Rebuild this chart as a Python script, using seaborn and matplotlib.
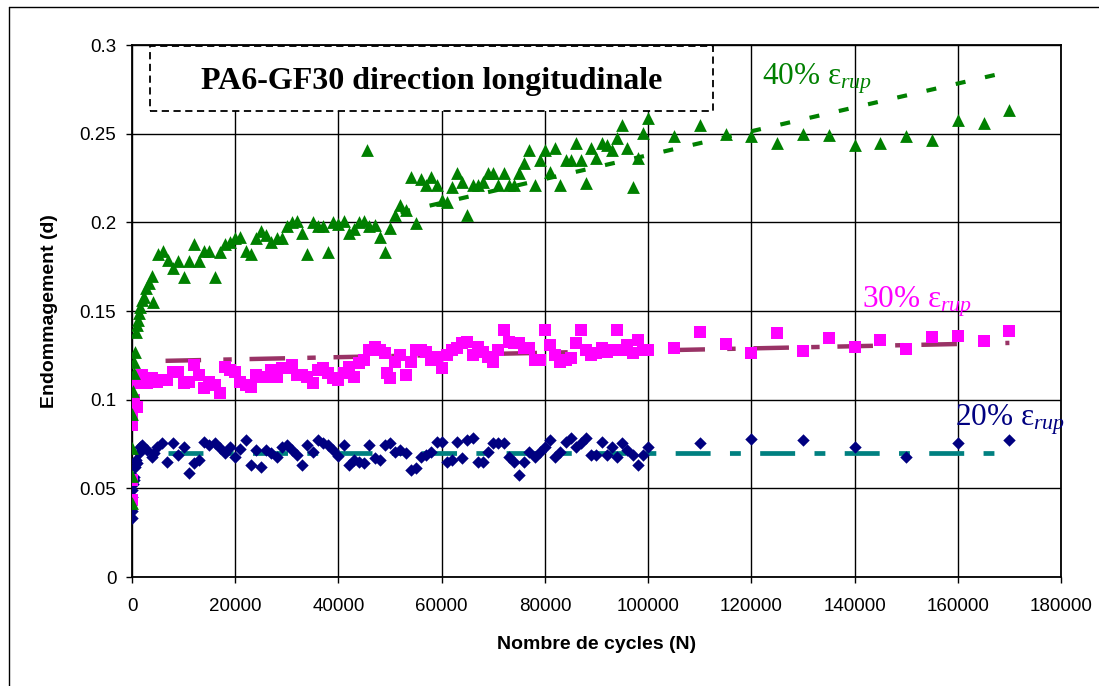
import matplotlib
matplotlib.use("Agg")
import matplotlib.pyplot as plt
import seaborn as sns
import pandas as pd
from matplotlib.patches import Rectangle
from matplotlib.lines import Line2D

# ---- data ----
# 40 % eps_rup (green triangles)
n40 = [0, 0, 0, 0, 100, 300, 400, 500, 700, 900, 1100, 1300, 1600, 2000, 2300, 2700, 3200, 3800, 4000,
       5000, 6000, 7000, 8000, 9000, 10000, 11000, 12000, 13000, 14000, 15000, 16000, 17000, 18000, 19000,
       20000, 21000, 22000, 23000, 24000, 25000, 26000, 27000, 28000, 29000, 30000, 31000, 32000, 33000,
       34000, 35000, 36000, 37000, 38000, 39000, 40000, 41000, 42000, 43000, 44000, 45000, 45500, 46000,
       47000, 48000, 49000, 50000, 51000, 52000, 53000, 54000, 55000, 56000, 57000, 58000, 59000, 60000,
       61000, 62000, 63000, 64000, 65000, 66000, 67000, 68000, 69000, 70000, 71000, 72000, 73000, 74000,
       75000, 76000, 77000, 78000, 79000, 80000, 81000, 82000, 83000, 84000, 85000, 86000, 87000, 88000,
       89000, 90000, 91000, 92000, 93000, 94000, 95000, 96000, 97000, 98000, 99000, 100000,
       105000, 110000, 115000, 120000, 125000, 130000, 135000, 140000, 145000, 150000, 155000, 160000,
       165000, 170000]
d40 = [0.042, 0.057, 0.073, 0.092, 0.105, 0.115, 0.121, 0.127, 0.138, 0.142, 0.145, 0.149, 0.152, 0.156,
       0.158, 0.163, 0.166, 0.170, 0.155,
       0.182, 0.184, 0.179, 0.174, 0.178, 0.169, 0.178, 0.188, 0.178, 0.184, 0.184, 0.169, 0.183, 0.188,
       0.189, 0.191, 0.192, 0.184, 0.182, 0.191, 0.195, 0.193, 0.189, 0.191, 0.191, 0.198, 0.200, 0.201,
       0.194, 0.182, 0.200, 0.198, 0.198, 0.183, 0.200, 0.199, 0.201, 0.194, 0.196, 0.200, 0.201, 0.241,
       0.198, 0.1985, 0.192, 0.183, 0.197, 0.204, 0.210, 0.207, 0.2255, 0.1998, 0.2245, 0.221, 0.2255,
       0.221, 0.2126, 0.2117, 0.2201, 0.2277, 0.223, 0.2042, 0.2211, 0.2211, 0.223, 0.2277, 0.2277, 0.2211,
       0.2277, 0.2211, 0.2211, 0.2277, 0.2333, 0.2408, 0.2211, 0.235, 0.2408, 0.2286, 0.2418, 0.2211,
       0.235, 0.235, 0.2446, 0.235, 0.222, 0.2418, 0.236, 0.2446, 0.2437, 0.2408, 0.2474, 0.255, 0.2418,
       0.2198, 0.236, 0.2503, 0.2587,
       0.2487, 0.255, 0.2499, 0.2487, 0.2447, 0.2499, 0.2493, 0.2437, 0.2447, 0.2487, 0.2465, 0.2577,
       0.2562, 0.2634]

# 30 % eps_rup (magenta squares)
n30 = [0, 0, 0, 0, 200, 300, 500, 800, 1000, 1200,
       1900, 2900, 3800, 4800, 5800, 6700, 8000, 9000, 10000, 11000, 12000, 13000, 14000, 15000, 16000,
       17000, 18000, 19000, 20000, 21000, 22000, 23000, 24000, 25000, 26000, 27000, 28000, 29000, 30000,
       31000, 32000, 33000, 34000, 35000, 36000, 37000, 38000, 39000, 40000, 41000, 42000, 43000, 44000,
       45000, 46000, 47000, 48000, 49000, 49500, 50000, 51000, 52000, 53000, 54000, 55000, 56000, 57000,
       58000, 59000, 60000, 61000, 62000, 63000, 64000, 65000, 66000, 67000, 68000, 69000, 70000, 71000,
       72000, 73000, 74000, 75000, 76000, 77000, 78000, 79000, 80000, 81000, 82000, 83000, 84000, 85000,
       86000, 87000, 88000, 89000, 90000, 91000, 92000, 93000, 94000, 95000, 96000, 97000, 98000, 99000,
       100000, 105000, 110000, 115000, 120000, 125000, 130000, 135000, 140000, 145000, 150000, 155000,
       160000, 165000, 170000]
d30 = [0.0434, 0.0545, 0.0857, 0.0923, 0.0989, 0.0998, 0.1111, 0.1092, 0.0960, 0.1102,
       0.1139, 0.1092, 0.112, 0.1102, 0.1111, 0.1111, 0.1158, 0.1158, 0.1092, 0.1102, 0.1196, 0.1139,
       0.1064, 0.1102, 0.1083, 0.104, 0.1186, 0.1167, 0.1158, 0.1102, 0.1083, 0.1073, 0.1139, 0.113,
       0.113, 0.1167, 0.113, 0.1177, 0.1177, 0.1196, 0.1139, 0.1139, 0.113, 0.1092, 0.1167, 0.1177,
       0.1149, 0.112, 0.1111, 0.1149, 0.1186, 0.113, 0.1205, 0.1224, 0.128, 0.1299, 0.128, 0.1262,
       0.1149, 0.112, 0.1214, 0.1252, 0.1139, 0.1214, 0.128, 0.128, 0.1271, 0.1224, 0.1243, 0.1177,
       0.1252, 0.128, 0.129, 0.1318, 0.1327, 0.1252, 0.1299, 0.1271, 0.1243, 0.1214, 0.128, 0.1393,
       0.1327, 0.1318, 0.1318, 0.129, 0.129, 0.1224, 0.1224, 0.1393, 0.1308, 0.1252, 0.1214, 0.1224,
       0.1233, 0.1318, 0.1393, 0.128, 0.1252, 0.1262, 0.129, 0.1271, 0.128, 0.1393, 0.128, 0.1308,
       0.1262, 0.1337, 0.128, 0.128, 0.129, 0.1384, 0.1313, 0.1265, 0.1378, 0.1275, 0.135, 0.1296,
       0.1337, 0.1288, 0.1352, 0.136, 0.1333, 0.1389]

# 20 % eps_rup (navy diamonds)
n20 = [0, 0, 0, 0, 200, 300, 400, 600, 800, 1000, 1300, 1600,
       1900, 2900, 3800, 4300, 4800, 5800, 6700, 8000, 9000, 10000, 11000, 12000, 13000, 14000, 15000,
       16000, 17000, 18000, 19000, 20000, 21000, 22000, 23000, 24000, 25000, 26000, 27000, 28000, 29000,
       30000, 31000, 32000, 33000, 34000, 35000, 36000, 37000, 38000, 39000, 40000, 41000, 42000, 43000,
       44000, 45000, 46000, 47000, 48000, 49000, 50000, 51000, 52000, 53000, 54000, 55000, 56000, 57000,
       58000, 59000, 60000, 61000, 62000, 63000, 64000, 65000, 66000, 67000, 68000, 69000, 70000, 71000,
       72000, 73000, 74000, 75000, 76000, 77000, 78000, 79000, 80000, 81000, 82000, 83000, 84000, 85000,
       86000, 87000, 88000, 89000, 90000, 91000, 92000, 93000, 94000, 95000, 96000, 97000, 98000, 99000,
       100000, 110000, 120000, 130000, 140000, 150000, 160000, 170000]
d20 = [0.0331, 0.0374, 0.0449, 0.0493, 0.0524, 0.0545, 0.0566, 0.0622, 0.066, 0.0641, 0.0698, 0.0735,
       0.0745, 0.0716, 0.0679, 0.0698, 0.0735, 0.0754, 0.065, 0.0758, 0.0688, 0.0731, 0.0585, 0.0641,
       0.066, 0.0763, 0.0745, 0.0754, 0.0726, 0.0698, 0.0735, 0.0679, 0.072, 0.0773, 0.0632, 0.0716,
       0.0622, 0.0716, 0.0698, 0.0679, 0.0735, 0.0745, 0.0716, 0.0688, 0.0632, 0.0745, 0.0707, 0.0773,
       0.0754, 0.0745, 0.0716, 0.0682, 0.0745, 0.0632, 0.066, 0.065, 0.0641, 0.0745, 0.0669, 0.066,
       0.0745, 0.0758, 0.0707, 0.0716, 0.0698, 0.0603, 0.0613, 0.0679, 0.0688, 0.0707, 0.0763, 0.0763,
       0.065, 0.066, 0.0763, 0.0669, 0.0773, 0.0782, 0.065, 0.065, 0.0707, 0.0754, 0.0754, 0.0754,
       0.0679, 0.065, 0.0575, 0.065, 0.0707, 0.0679, 0.0707, 0.0735, 0.0773, 0.0679, 0.0707, 0.0763,
       0.0782, 0.0735, 0.0754, 0.0782, 0.0688, 0.0688, 0.0763, 0.0688, 0.0735, 0.0679, 0.0754, 0.0716,
       0.0688, 0.0632, 0.0688, 0.0735, 0.0758, 0.0777, 0.0773, 0.0732, 0.0679, 0.0758, 0.0773]

# trend lines (end points)
trend40_n = [52000, 170000]
trend40_d = [0.2056, 0.2850]
trend30_n = [6500, 170000]
trend30_d = [0.1219, 0.1320]
trend20_n = [7000, 170000]
trend20_d = [0.0697, 0.0697]

xticks = [0, 20000, 40000, 60000, 80000, 100000, 120000, 140000, 160000, 180000]
xtick_labels = ['0', '20000', '40000', '60000', '80000', '100000', '120000', '140000', '160000', '180000']
yticks = [0, 0.05, 0.1, 0.15, 0.2, 0.25, 0.3]
ytick_labels = ['0', '0.05', '0.1', '0.15', '0.2', '0.25', '0.3']

# ---- style ----
sns.set_style('ticks')
plt.rcParams['font.family'] = ['Liberation Sans', 'DejaVu Sans']
plt.rcParams['text.color'] = 'black'
plt.rcParams['axes.labelcolor'] = 'black'
plt.rcParams['mathtext.fontset'] = 'custom'
plt.rcParams['mathtext.rm'] = 'Liberation Serif'
plt.rcParams['mathtext.it'] = 'Liberation Serif:italic'

fig = plt.figure(figsize=(10.99, 6.86), dpi=100)
ax = fig.add_axes([0.12011, 0.15889, 0.84531, 0.77551])

df40 = pd.DataFrame({'N': n40, 'd': d40})
df30 = pd.DataFrame({'N': n30, 'd': d30})
df20 = pd.DataFrame({'N': n20, 'd': d20})

# trend lines first, markers drawn over them
sns.lineplot(x=trend40_n, y=trend40_d, color='#008000', linewidth=3, estimator=None, errorbar=None,
             linestyle=(0, (2.4, 4.8)), ax=ax, zorder=2)
sns.lineplot(x=trend30_n, y=trend30_d, color='#993366', linewidth=3.2, estimator=None, errorbar=None,
             linestyle=(0, (8.0, 5.0, 1.9, 4.0)), ax=ax, zorder=2)
sns.lineplot(x=trend20_n, y=trend20_d, color='#008080', linewidth=3.4, estimator=None, errorbar=None,
             linestyle=(0, (7.4, 4.1, 2.3, 4.1)), ax=ax, zorder=2)

sns.scatterplot(data=df20, x='N', y='d', marker='D', color='#000080', s=40, linewidth=0, ax=ax, zorder=3)
sns.scatterplot(data=df30, x='N', y='d', marker='s', color='#FF00FF', s=64, linewidth=0, ax=ax, zorder=3)
sns.scatterplot(data=df40, x='N', y='d', marker='^', color='#008000', s=85, linewidth=0, ax=ax, zorder=3)

ax.set_xlim(0, 180000)
ax.set_ylim(0, 0.3)
ax.set_xticks(xticks)
ax.set_xticklabels(xtick_labels)
ax.set_yticks(yticks)
ax.set_yticklabels(ytick_labels)
ax.tick_params(axis='both', direction='out', length=4.3, width=1, color='black',
               labelsize=13.5, labelcolor='black')
ax.tick_params(axis='x', pad=10.5)
ax.tick_params(axis='y', pad=7)
ax.grid(True, color='black', linewidth=1)
ax.set_axisbelow(True)
for sp in ax.spines.values():
    sp.set_visible(True)
    sp.set_color('black')
    sp.set_linewidth(1.3)

ax.set_xlabel('Nombre de cycles (N)', fontsize=14, fontweight='bold', color='black')
ax.set_ylabel('Endommagement (d)', fontsize=14, fontweight='bold', color='black')
ax.xaxis.set_label_coords(0.5, -0.111)
ax.yaxis.set_label_coords(-0.0797, 0.5)

# title box
ax.add_patch(Rectangle((0.0194, 0.876), 0.606, 0.122, transform=ax.transAxes, facecolor='white',
                       edgecolor='black', linestyle=(0, (4, 2.5)), linewidth=1.3, zorder=5, clip_on=False))
ax.text(0.3224, 0.918, 'PA6-GF30 direction longitudinale', transform=ax.transAxes, ha='center',
        va='baseline', fontsize=23, fontweight='bold', family='Liberation Serif', color='black', zorder=6)

# series labels
ax.text(122070, 0.2775, r'40% $\mathrm{ε}_{rup}$', color='#008000', fontsize=22.5,
        family='Liberation Serif', ha='left', va='baseline', zorder=6)
ax.text(141400, 0.1517, r'30% $\mathrm{ε}_{rup}$', color='#FF00FF', fontsize=22.5,
        family='Liberation Serif', ha='left', va='baseline', zorder=6)
ax.text(159460, 0.0857, r'20% $\mathrm{ε}_{rup}$', color='#000080', fontsize=22.5,
        family='Liberation Serif', ha='left', va='baseline', zorder=6)

# chart-area frame (left and top edge visible)
fig.add_artist(Line2D([9 / 1099, 9 / 1099], [0, 1 - 7 / 686], transform=fig.transFigure,
                      color='black', linewidth=1))
fig.add_artist(Line2D([9 / 1099, 1], [1 - 7 / 686, 1 - 7 / 686], transform=fig.transFigure,
                      color='black', linewidth=1))

fig.savefig('out.png', dpi=100)
